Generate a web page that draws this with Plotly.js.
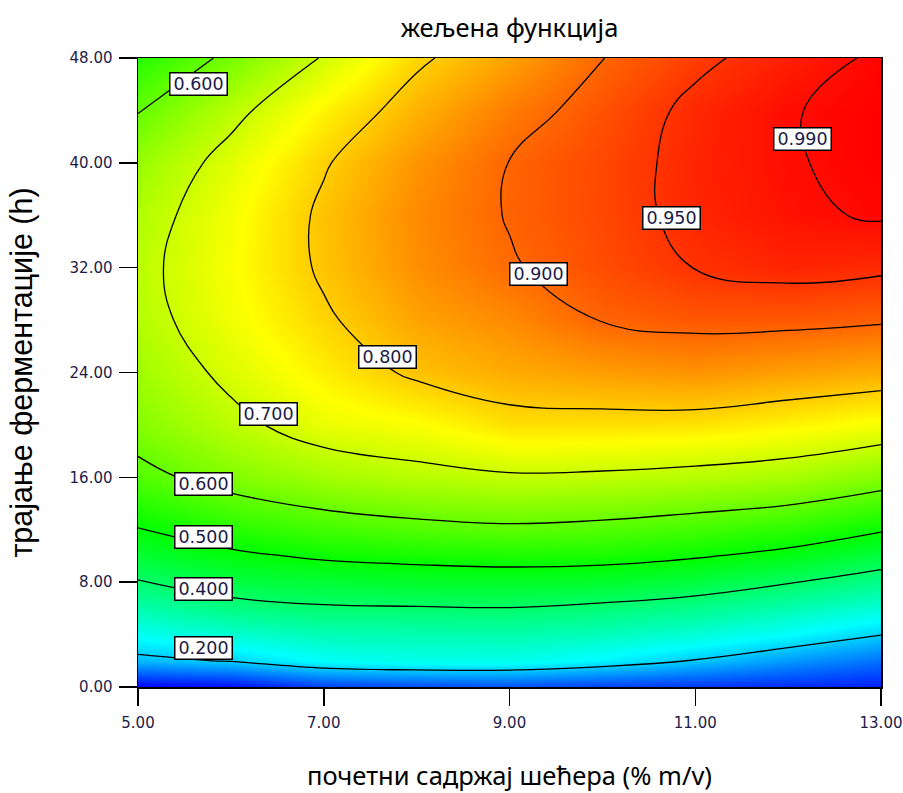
<!DOCTYPE html>
<html>
<head>
<meta charset="utf-8">
<script src="https://cdn.plot.ly/plotly-3.0.1.min.js"></script>
<style>
  html, body { margin: 0; padding: 0; background: #ffffff; }
  #chart { width: 903px; height: 793px; }
</style>
</head>
<body>
<div id="chart"></div>
<script>
// Initial sugar content (% m/v) – grid columns
const sugar = [5, 6, 7, 8, 9, 10, 11, 12, 13];
// Fermentation time (h) – grid rows
const hours = [0, 2, 4, 6, 8, 10, 12, 16, 20, 24, 28, 32, 36, 40, 44, 48];

// Desirability at each (hours, sugar) grid node, one row per time value
const d_h0  = [0.000, 0.010, 0.060, 0.070, 0.075, 0.060, 0.050, 0.040, 0.030];
const d_h2  = [0.180, 0.205, 0.255, 0.270, 0.270, 0.240, 0.196, 0.150, 0.110];
const d_h4  = [0.262, 0.295, 0.320, 0.325, 0.330, 0.315, 0.290, 0.250, 0.202];
const d_h6  = [0.330, 0.375, 0.392, 0.395, 0.398, 0.385, 0.365, 0.330, 0.290];
const d_h8  = [0.395, 0.435, 0.448, 0.459, 0.463, 0.457, 0.438, 0.404, 0.365];
const d_h10 = [0.450, 0.487, 0.510, 0.520, 0.527, 0.523, 0.506, 0.481, 0.438];
const d_h12 = [0.497, 0.537, 0.563, 0.579, 0.588, 0.580, 0.563, 0.542, 0.506];
const d_h16 = [0.580, 0.627, 0.660, 0.680, 0.692, 0.689, 0.679, 0.665, 0.632];
const d_h20 = [0.630, 0.683, 0.730, 0.746, 0.780, 0.780, 0.777, 0.761, 0.741];
const d_h24 = [0.655, 0.715, 0.765, 0.810, 0.832, 0.845, 0.856, 0.843, 0.831];
const d_h28 = [0.677, 0.737, 0.792, 0.840, 0.865, 0.902, 0.915, 0.914, 0.906];
const d_h32 = [0.683, 0.745, 0.808, 0.860, 0.895, 0.925, 0.951, 0.965, 0.958];
const d_h36 = [0.672, 0.740, 0.810, 0.865, 0.903, 0.930, 0.963, 0.983, 0.994];
const d_h40 = [0.648, 0.722, 0.795, 0.855, 0.901, 0.930, 0.964, 0.987, 1.000];
const d_h44 = [0.597, 0.682, 0.760, 0.825, 0.878, 0.920, 0.961, 0.988, 1.000];
const d_h48 = [0.535, 0.615, 0.705, 0.790, 0.841, 0.899, 0.940, 0.970, 0.997];

// Contour levels drawn as lines
const levels = [0.2, 0.4, 0.5, 0.6, 0.7, 0.8, 0.9, 0.95, 0.99];

// Level labels: value, sugar position, time position
const labelValues = [0.6, 0.99, 0.95, 0.9, 0.8, 0.7, 0.6, 0.5, 0.4, 0.2];
const labelSugar  = [5.65, 12.15, 10.74, 9.31, 7.69, 6.40, 5.70, 5.70, 5.70, 5.70];
const labelHours  = [46.0, 41.8, 35.8, 31.5, 25.2, 20.8, 15.5, 11.45, 7.5, 3.0];

const z = [d_h0, d_h2, d_h4, d_h6, d_h8, d_h10, d_h12, d_h16, d_h20,
           d_h24, d_h28, d_h32, d_h36, d_h40, d_h44, d_h48];

const rainbow = [
  [0.00, 'rgb(0,0,255)'],
  [0.25, 'rgb(0,255,255)'],
  [0.50, 'rgb(0,255,0)'],
  [0.75, 'rgb(255,255,0)'],
  [1.00, 'rgb(255,0,0)']
];

const traces = [{
  type: 'heatmap',
  x: sugar, y: hours, z: z,
  zmin: 0, zmax: 1,
  zsmooth: 'best',
  colorscale: rainbow,
  showscale: false,
  hoverinfo: 'skip'
}];

levels.forEach(function (lv) {
  traces.push({
    type: 'contour',
    x: sugar, y: hours, z: z,
    autocontour: false,
    contours: { start: lv, end: lv, size: 1, coloring: 'none' },
    line: { color: '#000000', width: 1.3, smoothing: 1.2 },
    showscale: false,
    hoverinfo: 'skip'
  });
});

const labelFont = { family: 'DejaVu Sans, Verdana, sans-serif', size: 17.5, color: '#1c1c48' };
const annotations = labelValues.map(function (v, i) {
  return {
    x: labelSugar[i], y: labelHours[i], xref: 'x', yref: 'y',
    text: v.toFixed(3),
    showarrow: false,
    font: labelFont,
    bgcolor: '#ffffff',
    bordercolor: '#000000',
    borderwidth: 1.5,
    borderpad: 1,
    width: 54, height: 19
  };
});

const tickFont = { family: 'DejaVu Sans, Verdana, sans-serif', size: 15, color: '#1c1c48' };

const layout = {
  width: 903, height: 793,
  margin: { l: 138, r: 22, t: 58, b: 106 },
  paper_bgcolor: '#ffffff',
  plot_bgcolor: '#ffffff',
  showlegend: false,
  title: {
    text: 'жељена функција',
    font: { family: 'Noto Sans, sans-serif', size: 25.5, color: '#000000' },
    x: 0.5, xref: 'paper', xanchor: 'center',
    y: 1 - 28 / 793, yref: 'container', yanchor: 'middle'
  },
  xaxis: {
    range: [5, 13],
    tick0: 5, dtick: 2, tickformat: '.2f',
    ticks: 'outside', ticklen: 17, tickwidth: 1.5, tickcolor: '#000000',
    ticklabelstandoff: 4,
    showline: true, linecolor: '#000000', linewidth: 1.5, mirror: true,
    showgrid: false, zeroline: false,
    tickfont: tickFont,
    title: {
      text: 'почетни садржај шећера (% m/v)',
      font: { family: 'Noto Sans, sans-serif', size: 25.5, color: '#000000' },
      standoff: 36
    }
  },
  yaxis: {
    range: [0, 48],
    tick0: 0, dtick: 8, tickformat: '.2f',
    ticks: 'outside', ticklen: 18, tickwidth: 1.5, tickcolor: '#000000',
    ticklabelstandoff: 3,
    showline: true, linecolor: '#000000', linewidth: 1.5, mirror: true,
    showgrid: false, zeroline: false,
    tickfont: tickFont,
    title: {
      text: 'трајање ферментације (h)',
      font: { family: 'Liberation Sans, Arial, sans-serif', size: 30.5, color: '#000000' },
      standoff: 28
    }
  },
  annotations: annotations
};

Plotly.newPlot('chart', traces, layout, { displayModeBar: false, staticPlot: true });
</script>
</body>
</html>
